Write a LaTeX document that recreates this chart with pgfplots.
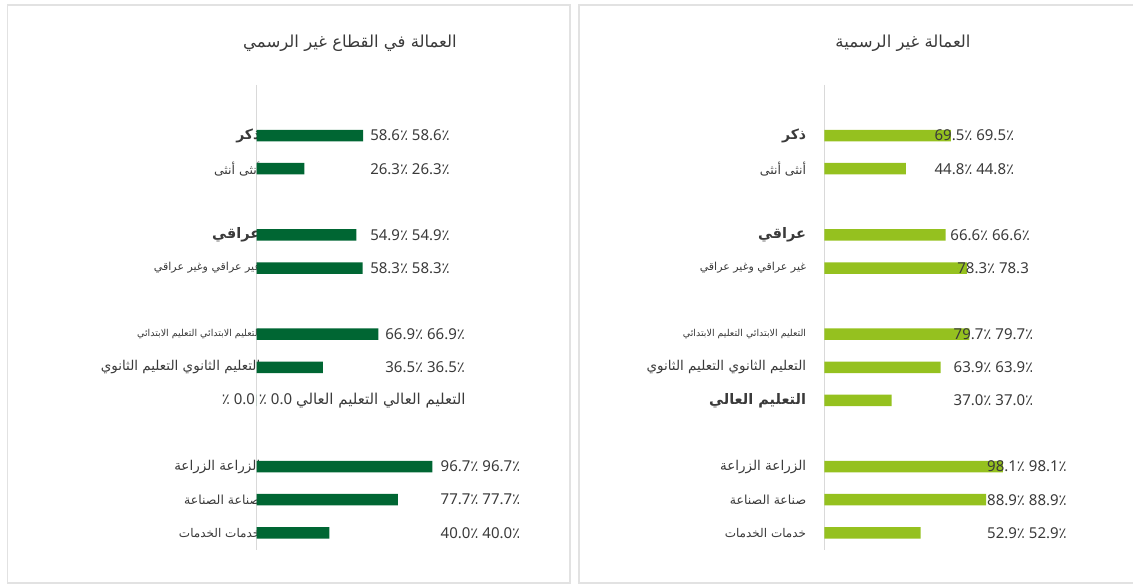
\documentclass[border=0pt]{standalone}
\usepackage{fontspec}
\usepackage{pgfplots}
\pgfplotsset{compat=1.18}
\setmainfont{Noto Sans}
\newfontfamily\arabicfont[Script=Arabic]{DejaVu Sans}
\TeXXeTstate=1
\newcommand\af[1]{\fontsize{#1}{#1}\selectfont\arabicfont}
\newcommand\pc{{\arabicfont ٪}}
\definecolor{dg}{HTML}{006633}
\definecolor{lg}{HTML}{95C11F}
\definecolor{txt}{HTML}{3A3A3A}
\definecolor{framec}{HTML}{E2E2E2}
\definecolor{axl}{HTML}{D9D9D9}
\pgfplotsset{panel/.style={
  scale only axis, width=182pt, height=465pt,
  xmin=0, xmax=100, ymin=-1.53, ymax=12.52, y dir=reverse,
  axis x line=none, axis y line=left,
  y axis line style={-, draw=axl, line width=1.6pt},
  ytick={0,1,3,4,6,7,8,10,11,12}, major tick length=0pt,
  bar width=11.5pt, clip=false, anchor=south west,
  yticklabel style={text=txt, inner sep=0pt, anchor=east},
  nodes near coords style={anchor=west, inner sep=0pt, text=txt, font=\fontsize{15}{17}\selectfont},
}}
\begin{document}
\begin{tikzpicture}[x=1pt,y=1pt]
\useasboundingbox (0,0) rectangle (1133,585);
\draw[framec, line width=1.5pt] (7.5,2) rectangle (570,580);
\draw[framec, line width=1.5pt] (1150,580) -- (579,580) -- (579,2) -- (1150,2);
\node[text=txt] at (350,542) {{\af{16.5}\beginR العمالة في القطاع غير الرسمي\endR}};
\node[text=txt] at (903,542) {{\af{16.5}\beginR العمالة غير الرسمية\endR}};

\begin{axis}[panel, at={(256.5pt,35pt)},
  yticklabel style={xshift=4pt},
  yticklabels={
    {{\af{14}\bfseries\beginR ذكر\endR}},
    {{\af{12.5}\beginR أنثى أنثى\endR}},
    {{\af{14.5}\bfseries\beginR عراقي\endR}},
    {{\af{11}\beginR غير عراقي وغير عراقي\endR}},
    {{\af{9.5}\beginR التعليم الابتدائي التعليم الابتدائي\endR}},
    {{\af{13.5}\beginR التعليم الثانوي التعليم الثانوي\endR}},
    {},
    {{\af{13.5}\beginR الزراعة الزراعة\endR}},
    {{\af{12.5}\beginR صناعة الصناعة\endR}},
    {{\af{12}\beginR خدمات الخدمات\endR}}}]
\addplot[xbar, fill=dg, draw=none] coordinates {
  (58.6,0) (26.3,1) (54.9,3) (58.3,4) (66.9,6) (36.5,7) (0,8) (96.7,10) (77.7,11) (40.0,12)};
\addplot[only marks, mark=*, mark size=0pt, mark options={draw=none,fill=none},
  point meta=explicit symbolic, nodes near coords] coordinates {
  (62.4,0) [58.6\pc{} 58.6\pc]
  (62.4,1) [26.3\pc{} 26.3\pc]
  (62.4,3) [54.9\pc{} 54.9\pc]
  (62.4,4) [58.3\pc{} 58.3\pc]
  (70.7,6) [66.9\pc{} 66.9\pc]
  (70.7,7) [36.5\pc{} 36.5\pc]
  (-19.1,8) [\pc{} 0.0 \pc{} 0.0 {\af{15}\beginR التعليم العالي التعليم العالي\endR}]
  (101.1,10) [96.7\pc{} 96.7\pc]
  (101.1,11) [77.7\pc{} 77.7\pc]
  (101.1,12) [40.0\pc{} 40.0\pc]};
\end{axis}

\begin{axis}[panel, at={(824.3pt,35pt)},
  yticklabel style={xshift=-18pt},
  yticklabels={
    {{\af{14}\bfseries\beginR ذكر\endR}},
    {{\af{12.5}\beginR أنثى أنثى\endR}},
    {{\af{14.5}\bfseries\beginR عراقي\endR}},
    {{\af{11}\beginR غير عراقي وغير عراقي\endR}},
    {{\af{9.5}\beginR التعليم الابتدائي التعليم الابتدائي\endR}},
    {{\af{13.5}\beginR التعليم الثانوي التعليم الثانوي\endR}},
    {{\af{14.5}\bfseries\beginR التعليم العالي\endR}},
    {{\af{13.5}\beginR الزراعة الزراعة\endR}},
    {{\af{12.5}\beginR صناعة الصناعة\endR}},
    {{\af{12}\beginR خدمات الخدمات\endR}}}]
\addplot[xbar, fill=lg, draw=none] coordinates {
  (69.5,0) (44.8,1) (66.6,3) (78.3,4) (79.7,6) (63.9,7) (37.0,8) (98.1,10) (88.9,11) (52.9,12)};
\addplot[only marks, mark=*, mark size=0pt, mark options={draw=none,fill=none},
  point meta=explicit symbolic, nodes near coords] coordinates {
  (60.5,0) [69.5\pc{} 69.5\pc]
  (60.5,1) [44.8\pc{} 44.8\pc]
  (69.2,3) [66.6\pc{} 66.6\pc]
  (73.0,4) [78.3\pc{} 78.3]
  (71.0,6) [79.7\pc{} 79.7\pc]
  (71.0,7) [63.9\pc{} 63.9\pc]
  (71.0,8) [37.0\pc{} 37.0\pc]
  (89.4,10) [98.1\pc{} 98.1\pc]
  (89.4,11) [88.9\pc{} 88.9\pc]
  (89.4,12) [52.9\pc{} 52.9\pc]};
\end{axis}
\end{tikzpicture}
\end{document}
